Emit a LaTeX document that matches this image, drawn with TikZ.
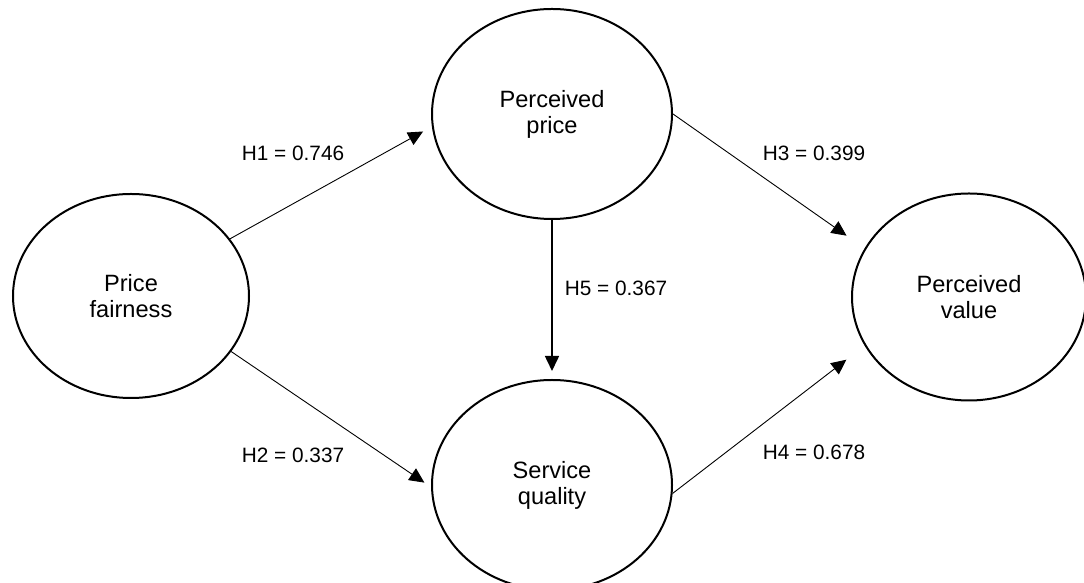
\documentclass[tikz,border=0pt]{standalone}
\usepackage{fontspec}
\setmainfont{Liberation Sans}
\usetikzlibrary{shapes.geometric,arrows.meta}
\tikzset{
  construct/.style={ellipse,draw=black,line width=2pt,inner sep=0pt,
    align=center,font=\fontsize{23.6}{26}\selectfont},
  path label/.style={inner sep=0pt,font=\fontsize{20.8}{25}\selectfont},
  arr/.style={line width=0.9pt,-{Triangle[length=15pt,width=14pt]}},
  arrthick/.style={line width=1.6pt,-{Triangle[length=15pt,width=14pt]}}
}
\begin{document}
\begin{tikzpicture}[x=1pt,y=1pt]
\clip (0,0) rectangle (1084,583);
\fill[white] (0,0) rectangle (1084,583);
\node[construct,minimum width=236pt,minimum height=204pt] (pf) at (131,287) {Price\\fairness};
\node[construct,minimum width=240pt,minimum height=210pt] (pp) at (552,469) {Perceived\\price};
\node[construct,minimum width=240pt,minimum height=210pt] (sq) at (552,98) {Service\\quality};
\node[construct,minimum width=234pt,minimum height=207pt] (pv) at (969,286) {Perceived\\value};
\draw[arr,shorten >=10pt] (pf.30.5) -- (pp.186);
\draw[arr,shorten >=8pt] (pf.-29.2) -- (sq.181);
\draw[arr,shorten >=22pt] (pp.0) -- (pv.155);
\draw[arr,shorten >=23pt] (sq.-4) -- (pv.205);
\draw[arrthick,shorten >=8pt] (pp.south) -- (sq.north);
\node[path label] (l1) at (293,430) {H1 = 0.746};
\node[path label] (l2) at (293,128) {H2 = 0.337};
\node[path label] (l3) at (814,430) {H3 = 0.399};
\node[path label] (l4) at (814,131) {H4 = 0.678};
\node[path label] (l5) at (616,295) {H5 = 0.367};
\end{tikzpicture}
\end{document}
